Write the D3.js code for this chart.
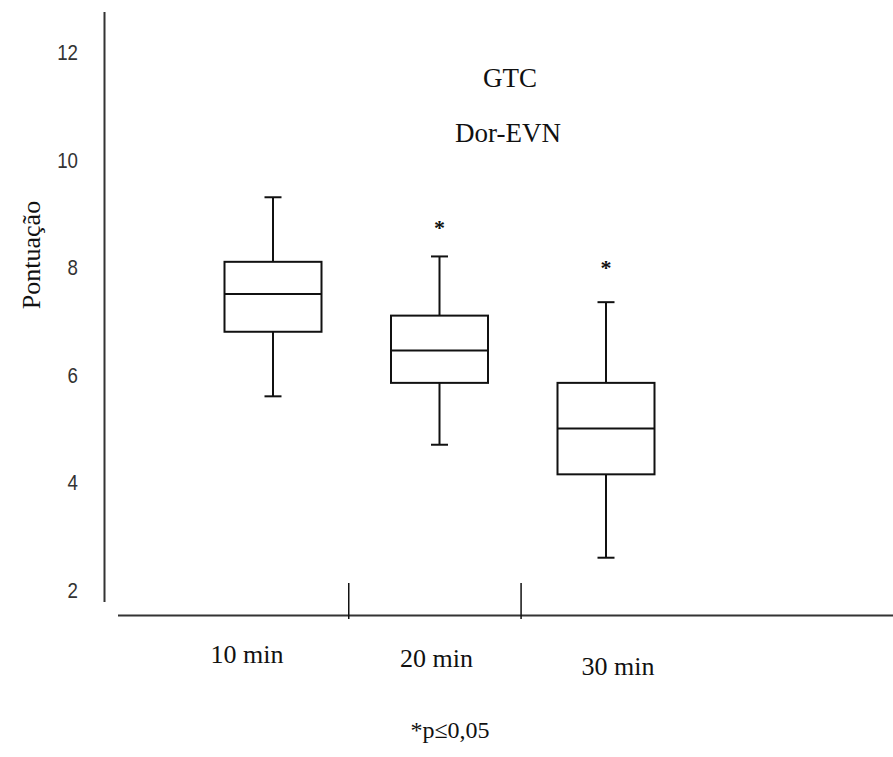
<!DOCTYPE html>
<html>
<head>
<meta charset="utf-8">
<script src="https://cdn.jsdelivr.net/npm/d3@7"></script>
<style>
  body { margin: 0; background: #fff; }
  svg { display: block; }
</style>
</head>
<body>
<div id="chart"></div>
<script>
const width = 893;
const height = 757;

// groups and box statistics
const groups = ["10 min", "20 min", "30 min"];
const whiskerLow = [5.6, 4.7, 2.6];
const q1 = [6.8, 5.85, 4.15];
const medians = [7.5, 6.45, 5.0];
const q3 = [8.1, 7.1, 5.85];
const whiskerHigh = [9.3, 8.2, 7.35];
const significant = [false, true, true];
const starValue = [null, 8.85, 8.1];
const yTicks = [2, 4, 6, 8, 10, 12];
const separators = [1.455, 2.49];

const boxes = groups.map((g, i) => ({
  name: g,
  pos: i + 1,
  lo: whiskerLow[i],
  q1: q1[i],
  med: medians[i],
  q3: q3[i],
  hi: whiskerHigh[i],
  sig: significant[i],
  star: starValue[i],
}));

const svg = d3
  .select("#chart")
  .append("svg")
  .attr("width", width)
  .attr("height", height);

const x = d3.scaleLinear().domain([0, 1]).range([106.5, 273]);
const y = d3.scaleLinear().domain([2, 12]).range([590, 52]);

const serif = "'Liberation Serif', 'Times New Roman', serif";
const boxWidth = 97;
const capWidth = 17;
const ink = "#111";

// y axis line (no ticks) + labels
svg
  .append("line")
  .attr("x1", 104.5)
  .attr("x2", 104.5)
  .attr("y1", 12)
  .attr("y2", 602)
  .attr("stroke", "#333")
  .attr("stroke-width", 2);

svg
  .append("g")
  .selectAll("text")
  .data(yTicks)
  .enter()
  .append("text")
  .attr("transform", (d) => `translate(78,${y(d) + 8}) scale(0.85,1)`)
  .attr("text-anchor", "end")
  .style("font-family", "'Liberation Sans', Arial, sans-serif")
  .style("font-size", "22px")
  .attr("fill", "#333")
  .text((d) => d);

svg
  .append("text")
  .attr("transform", "translate(40,255) rotate(-90)")
  .attr("text-anchor", "middle")
  .style("font-family", serif)
  .style("font-size", "26px")
  .attr("fill", "#111")
  .text("Pontuação");

// x axis line with the two separators
svg
  .append("line")
  .attr("x1", 118)
  .attr("x2", width)
  .attr("y1", 615.5)
  .attr("y2", 615.5)
  .attr("stroke", "#333")
  .attr("stroke-width", 2);

svg
  .append("g")
  .selectAll("line")
  .data(separators)
  .enter()
  .append("line")
  .attr("x1", (d) => x(d))
  .attr("x2", (d) => x(d))
  .attr("y1", 583)
  .attr("y2", 619)
  .attr("stroke", "#111")
  .attr("stroke-width", 1.5);

const labelShift = [-26, -3, 12];
const labelBase = [663, 667, 675];

svg
  .append("g")
  .selectAll("text")
  .data(boxes)
  .enter()
  .append("text")
  .attr("x", (d, i) => x(d.pos) + labelShift[i])
  .attr("y", (d, i) => labelBase[i])
  .attr("text-anchor", "middle")
  .style("font-family", serif)
  .style("font-size", "26px")
  .attr("fill", "#111")
  .text((d) => d.name);

// boxes
const box = svg
  .append("g")
  .selectAll("g")
  .data(boxes)
  .enter()
  .append("g")
  .attr("stroke", ink)
  .attr("stroke-width", 2)
  .attr("fill", "none");

box
  .append("line")
  .attr("x1", (d) => x(d.pos))
  .attr("x2", (d) => x(d.pos))
  .attr("y1", (d) => y(d.hi))
  .attr("y2", (d) => y(d.q3));

box
  .append("line")
  .attr("x1", (d) => x(d.pos))
  .attr("x2", (d) => x(d.pos))
  .attr("y1", (d) => y(d.q1))
  .attr("y2", (d) => y(d.lo));

box
  .append("line")
  .attr("x1", (d) => x(d.pos) - capWidth / 2)
  .attr("x2", (d) => x(d.pos) + capWidth / 2)
  .attr("y1", (d) => y(d.hi))
  .attr("y2", (d) => y(d.hi));

box
  .append("line")
  .attr("x1", (d) => x(d.pos) - capWidth / 2)
  .attr("x2", (d) => x(d.pos) + capWidth / 2)
  .attr("y1", (d) => y(d.lo))
  .attr("y2", (d) => y(d.lo));

box
  .append("rect")
  .attr("x", (d) => x(d.pos) - boxWidth / 2)
  .attr("y", (d) => y(d.q3))
  .attr("width", boxWidth)
  .attr("height", (d) => y(d.q1) - y(d.q3))
  .attr("fill", "#fff");

box
  .append("line")
  .attr("x1", (d) => x(d.pos) - boxWidth / 2)
  .attr("x2", (d) => x(d.pos) + boxWidth / 2)
  .attr("y1", (d) => y(d.med))
  .attr("y2", (d) => y(d.med));

// significance stars
svg
  .append("g")
  .selectAll("text")
  .data(boxes.filter((d) => d.sig))
  .enter()
  .append("text")
  .attr("x", (d) => x(d.pos))
  .attr("y", (d) => y(d.star))
  .attr("dy", "0.62em")
  .attr("text-anchor", "middle")
  .style("font-family", serif)
  .style("font-size", "22px")
  .style("font-weight", "bold")
  .attr("fill", "#111")
  .text("*");

// title
svg
  .append("text")
  .attr("x", 510)
  .attr("y", 87)
  .attr("text-anchor", "middle")
  .style("font-family", serif)
  .style("font-size", "27px")
  .attr("fill", "#111")
  .text("GTC");

svg
  .append("text")
  .attr("x", 508)
  .attr("y", 142)
  .attr("text-anchor", "middle")
  .style("font-family", serif)
  .style("font-size", "27px")
  .attr("fill", "#111")
  .text("Dor-EVN");

// footnote
svg
  .append("text")
  .attr("x", 450)
  .attr("y", 738)
  .attr("text-anchor", "middle")
  .style("font-family", serif)
  .style("font-size", "24px")
  .attr("fill", "#111")
  .text("*p≤0,05");
</script>
</body>
</html>
